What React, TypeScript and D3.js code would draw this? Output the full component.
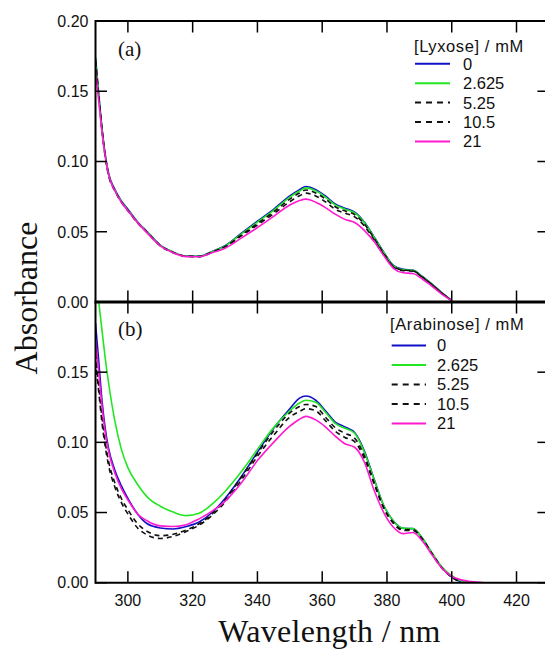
import React from "react";
import * as d3 from "d3";

// ---------- data ----------
const wavelengths = [290, 291, 292, 293, 294, 296, 298, 300, 303, 306, 310, 314, 318, 322, 326, 330, 335, 340, 345, 350, 353, 355, 358, 361, 364, 367, 370, 373, 376, 379, 382, 385, 388, 391, 394, 397, 400, 403, 406, 410];

const concLabels = ["0", "2.625", "5.25", "10.5", "21"];

// Panel (a) Lyxose
const lyx0 = [0.174, 0.148, 0.124, 0.105, 0.092, 0.080, 0.072, 0.066, 0.057, 0.050, 0.0405, 0.0355, 0.0327, 0.0326, 0.0360, 0.0400, 0.0488, 0.0575, 0.066, 0.0755, 0.0800, 0.0822, 0.0800, 0.0755, 0.0698, 0.0668, 0.0640, 0.0570, 0.0465, 0.0355, 0.0260, 0.0232, 0.0227, 0.0180, 0.0125, 0.0065, 0.0010, null, null, null];
const lyx2625 = [0.173, 0.147, 0.123, 0.104, 0.091, 0.0795, 0.0715, 0.0655, 0.0567, 0.0497, 0.0403, 0.0354, 0.0326, 0.0325, 0.0358, 0.0397, 0.0483, 0.0568, 0.0652, 0.0746, 0.0790, 0.0812, 0.0791, 0.0747, 0.0691, 0.0661, 0.0634, 0.0565, 0.0461, 0.0352, 0.0258, 0.0230, 0.0225, 0.0178, 0.0124, 0.0064, 0.0010, null, null, null];
const lyx525 = [0.172, 0.147, 0.123, 0.104, 0.091, 0.0793, 0.0713, 0.0653, 0.0565, 0.0495, 0.0402, 0.0353, 0.0326, 0.0324, 0.0356, 0.0394, 0.0476, 0.0558, 0.0641, 0.0732, 0.0776, 0.0797, 0.0776, 0.0733, 0.0678, 0.0649, 0.0622, 0.0555, 0.0453, 0.0346, 0.0254, 0.0227, 0.0222, 0.0176, 0.0122, 0.0063, 0.0010, null, null, null];
const lyx105 = [0.171, 0.146, 0.122, 0.1035, 0.0905, 0.079, 0.071, 0.065, 0.0562, 0.0493, 0.0400, 0.0351, 0.0325, 0.0323, 0.0353, 0.0390, 0.0470, 0.0548, 0.0628, 0.0714, 0.0756, 0.0775, 0.0755, 0.0713, 0.0660, 0.0632, 0.0606, 0.0542, 0.0443, 0.0339, 0.0249, 0.0223, 0.0219, 0.0173, 0.0120, 0.0062, 0.0010, null, null, null];
const lyx21 = [0.165, 0.143, 0.121, 0.104, 0.091, 0.079, 0.071, 0.065, 0.0565, 0.049, 0.040, 0.0350, 0.0323, 0.0322, 0.0350, 0.0383, 0.0455, 0.0530, 0.0610, 0.0690, 0.0722, 0.0732, 0.0710, 0.0672, 0.0625, 0.0588, 0.0566, 0.0510, 0.0430, 0.0330, 0.0240, 0.0208, 0.0203, 0.0162, 0.0110, 0.0055, 0.0008, null, null, null];

// Panel (b) Arabinose
const ara0 = [0.185, 0.158, 0.130, 0.110, 0.096, 0.080, 0.069, 0.060, 0.049, 0.042, 0.0390, 0.0383, 0.0400, 0.0432, 0.0500, 0.0600, 0.0755, 0.0930, 0.1100, 0.1240, 0.1315, 0.1330, 0.1300, 0.1225, 0.1145, 0.1110, 0.1070, 0.0940, 0.0740, 0.0550, 0.0440, 0.0388, 0.0385, 0.0315, 0.0205, 0.0105, 0.0040, 0.0005, null, null];
const ara2625 = [null, 0.200, 0.180, 0.160, 0.143, 0.115, 0.095, 0.082, 0.070, 0.061, 0.0545, 0.0503, 0.0478, 0.0495, 0.0560, 0.0650, 0.0790, 0.0950, 0.1105, 0.1225, 0.1280, 0.1300, 0.1285, 0.1215, 0.1135, 0.1100, 0.1065, 0.0930, 0.0735, 0.0550, 0.0438, 0.0387, 0.0385, 0.0315, 0.0210, 0.0112, 0.0050, 0.0012, 0.0, null];
const ara525 = [0.163, 0.140, 0.118, 0.100, 0.087, 0.071, 0.060, 0.052, 0.042, 0.0365, 0.0335, 0.0345, 0.0375, 0.0420, 0.0490, 0.0590, 0.0750, 0.0920, 0.1080, 0.1210, 0.1255, 0.1270, 0.1255, 0.1180, 0.1105, 0.1065, 0.1030, 0.0905, 0.0715, 0.0535, 0.0428, 0.0378, 0.0378, 0.0310, 0.0205, 0.0105, 0.0040, 0.0005, null, null];
const ara105 = [0.158, 0.136, 0.114, 0.097, 0.084, 0.068, 0.057, 0.049, 0.039, 0.0340, 0.0315, 0.0330, 0.0365, 0.0410, 0.0480, 0.0575, 0.0730, 0.0900, 0.1050, 0.1180, 0.1220, 0.1240, 0.1225, 0.1155, 0.1080, 0.1035, 0.1005, 0.0885, 0.0705, 0.0530, 0.0422, 0.0372, 0.0372, 0.0305, 0.0200, 0.0103, 0.0040, 0.0005, null, null];
const ara21 = [0.174, 0.150, 0.126, 0.107, 0.094, 0.078, 0.067, 0.059, 0.049, 0.0440, 0.0405, 0.0400, 0.0413, 0.0455, 0.0510, 0.0580, 0.0710, 0.0870, 0.1000, 0.1115, 0.1165, 0.1185, 0.1160, 0.1110, 0.1045, 0.0990, 0.0965, 0.0860, 0.0660, 0.0500, 0.0395, 0.0350, 0.0358, 0.0295, 0.0195, 0.0102, 0.0045, 0.0020, 0.0008, 0.0];

const xTicks = [300, 320, 340, 360, 380, 400, 420];
const yTicks = [0, 0.05, 0.1, 0.15, 0.2];

// ---------- styles ----------
const COLORS = ["#1010c8", "#22e622", "#111111", "#111111", "#ff1ad0"];
const DASHES = [null, null, "5,4", "5,4", null];

const W = 545;
const H = 652;
const X0 = 95.5;
const X1 = 548.9;
const YTOP = 21;
const YMID = 302;
const YBOT = 582.7;

const x = d3.scaleLinear().domain([290, 430]).range([X0, X1]);
const yA = d3.scaleLinear().domain([0, 0.2]).range([YMID, YTOP]);
const yB = d3.scaleLinear().domain([0, 0.2]).range([YBOT, YMID]);

function Panel({ y, series, id }: { y: d3.ScaleLinear<number, number>; series: (number | null)[][]; id: string }) {
  const line = d3
    .line<number>()
    .defined((_, i, arr) => (arr as any)[i] !== null)
    .x((_, i) => x(wavelengths[i]))
    .y((v) => y(v as number))
    .curve(d3.curveMonotoneX);
  const [r0, r1] = y.range();
  return (
    <g>
      <defs>
        <clipPath id={id}>
          <rect x={X0} y={Math.min(r0, r1)} width={X1 - X0} height={Math.abs(r0 - r1)} />
        </clipPath>
      </defs>
      <g clipPath={`url(#${id})`}>
        {series.map((s, k) => (
          <path
            key={k}
            d={line(s as any) || ""}
            fill="none"
            stroke={COLORS[k]}
            strokeWidth={1.6}
            strokeDasharray={DASHES[k] || undefined}
          />
        ))}
      </g>
    </g>
  );
}

function Legend({ title, x0, lineX0, lineX1, textX, titleY, rowY0, dy }: any) {
  return (
    <g fontFamily="'Liberation Sans', Arial, sans-serif" fontSize={16.5} fill="#111">
      <text x={x0} y={titleY} letterSpacing={0.6}>{title}</text>
      {concLabels.map((lab, k) => {
        const yy = rowY0 + k * dy;
        return (
          <g key={k}>
            <line x1={lineX0} x2={lineX1} y1={yy} y2={yy} stroke={COLORS[k]} strokeWidth={2} strokeDasharray={DASHES[k] ? "6,5" : undefined} />
            <text x={textX} y={yy} dy="0.36em">{lab}</text>
          </g>
        );
      })}
    </g>
  );
}

export default function App() {
  const tickLen = 11.5;
  return (
    <svg width={W} height={H} style={{ position: "absolute", left: 0, top: 0, background: "#fff" }}>
      <Panel y={yA} series={[lyx0, lyx2625, lyx525, lyx105, lyx21]} id="clipA" />
      <Panel y={yB} series={[ara0, ara2625, ara525, ara105, ara21]} id="clipB" />

      {/* frame */}
      <g stroke="#000" fill="none">
        <line x1={X0} x2={X1} y1={YTOP} y2={YTOP} strokeWidth={2} />
        <line x1={X0} x2={X1} y1={YBOT} y2={YBOT} strokeWidth={2} />
        <line x1={X0 - 1} x2={X1} y1={YMID} y2={YMID} strokeWidth={3.2} />
        <line x1={X0} x2={X0} y1={YTOP - 1} y2={YBOT + 1} strokeWidth={2} />
        <line x1={X1} x2={X1} y1={YTOP - 1} y2={YBOT + 1} strokeWidth={2} />
        {/* x ticks */}
        {xTicks.map((t) => (
          <g key={t}>
            <line x1={x(t)} x2={x(t)} y1={YTOP} y2={YTOP + tickLen} strokeWidth={1.5} />
            <line x1={x(t)} x2={x(t)} y1={YMID - tickLen} y2={YMID + tickLen} strokeWidth={1.5} />
            <line x1={x(t)} x2={x(t)} y1={YBOT} y2={YBOT - tickLen} strokeWidth={1.5} />
          </g>
        ))}
        {/* y ticks */}
        {[yA, yB].map((ys, j) =>
          yTicks.map((t) => (
            <g key={`${j}-${t}`}>
              <line x1={X0} x2={X0 + tickLen} y1={ys(t)} y2={ys(t)} strokeWidth={1.5} />
              <line x1={X1} x2={X1 - tickLen} y1={ys(t)} y2={ys(t)} strokeWidth={1.5} />
            </g>
          ))
        )}
      </g>

      {/* tick labels */}
      <g fontFamily="'Liberation Sans', Arial, sans-serif" fontSize={16} fill="#111">
        {yTicks.map((t) => (
          <text key={`a${t}`} x={88.5} y={yA(t)} dy="0.36em" textAnchor="end">{d3.format(".2f")(t)}</text>
        ))}
        {yTicks.filter((t) => t < 0.2).map((t) => (
          <text key={`b${t}`} x={88.5} y={yB(t)} dy="0.36em" textAnchor="end">{d3.format(".2f")(t)}</text>
        ))}
        {xTicks.map((t) => (
          <text key={`x${t}`} x={x(t)} y={605.5} textAnchor="middle">{t}</text>
        ))}
      </g>

      {/* panel labels */}
      <g fontFamily="'Liberation Serif', 'Times New Roman', serif" fontSize={21} fill="#111">
        <text x={118} y={55.5}>(a)</text>
        <text x={118} y={335.5}>(b)</text>
      </g>

      {/* axis titles */}
      <g fontFamily="'Liberation Serif', 'Times New Roman', serif" fontSize={32} fill="#111">
        <text x={329.5} y={642} textAnchor="middle" letterSpacing={0.3}>Wavelength / nm</text>
        <text transform={`translate(37,298) rotate(-90)`} textAnchor="middle">Absorbance</text>
      </g>

      <Legend title="[Lyxose] / mM" x0={414} lineX0={415} lineX1={450} textX={463} titleY={52.3} rowY0={63.8} dy={19.4} />
      <Legend title="[Arabinose] / mM" x0={390} lineX0={391.7} lineX1={426} textX={437} titleY={329.7} rowY0={345.5} dy={19.5} />
    </svg>
  );
}
